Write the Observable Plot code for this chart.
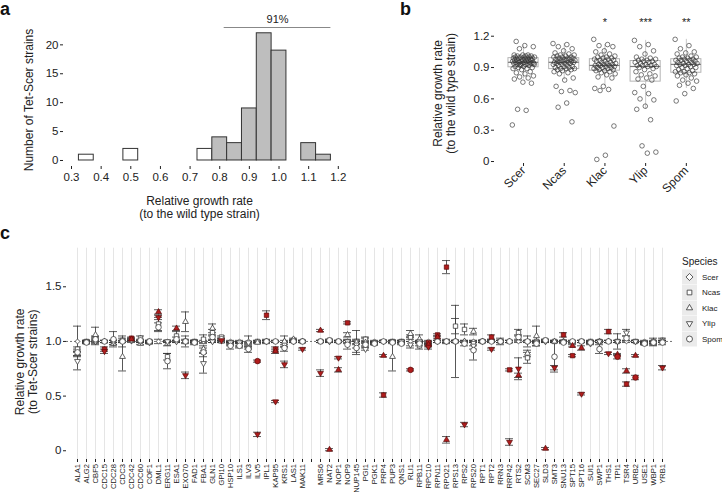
<!DOCTYPE html>
<html><head><meta charset="utf-8">
<script src="https://cdn.jsdelivr.net/npm/d3@7"></script>
<script src="https://cdn.jsdelivr.net/npm/@observablehq/plot@0.6"></script>
<style>
body{margin:0;background:#fff;}
#root{position:relative;width:722px;height:492px;overflow:hidden;background:#fff;font-family:"Liberation Sans",Arial,sans-serif;}
.panel{position:absolute;}
</style></head><body><div id="root"></div>
<script>
// ---------- Panel a data ----------
const histCenters = [0.35, 0.50, 0.75, 0.80, 0.85, 0.90, 0.95, 1.00, 1.10, 1.15];
const histCounts  = [1, 2, 2, 4, 3, 9, 22, 19, 3, 1];
const histGray    = [false, false, false, true, true, true, true, true, true, true];
const histBinWidth = 0.05;
const histTicks = [0.3, 0.4, 0.5, 0.6, 0.7, 0.8, 0.9, 1.0, 1.1, 1.2];
const histYTicks = [0, 5, 10, 15, 20];
const pctLabel = "91%";
const pctFrom = 0.815, pctTo = 1.175, pctY = 23;

// ---------- Panel b data ----------
const speciesB = ["Scer", "Ncas", "Klac", "Ylip", "Spom"];
const scerRates = [0.35,0.49,0.50,0.75,0.76,0.79,0.80,0.81,0.82,0.84,0.85,0.86,0.88,0.89,0.89,0.90,0.90,0.91,0.91,0.92,0.92,
  0.93,0.93,0.93,0.94,0.94,0.94,0.94,0.95,0.95,0.95,0.95,0.95,0.96,0.96,0.96,0.96,0.97,0.97,0.97,0.97,0.93,0.94,
  0.98,0.98,0.98,0.98,0.99,0.99,0.99,0.99,1.00,1.00,1.00,1.00,1.00,1.01,1.01,1.01,1.02,1.02,1.02,1.08,1.10,1.11,1.15];
const ncasRates = [1.13,1.12,1.10,1.08,1.06,1.04,1.03,1.02,1.02,1.01,1.01,1.00,1.00,1.00,0.99,0.99,0.99,0.98,0.98,0.98,
  0.97,0.97,0.97,0.96,0.96,0.96,0.95,0.95,0.95,0.95,0.94,0.94,0.94,0.93,0.93,0.92,0.92,0.91,0.91,0.90,0.90,0.89,0.89,
  0.89,0.88,0.88,0.87,0.86,0.85,0.84,0.80,0.78,0.72,0.68,0.67,0.66,0.56,0.52,0.38];
const klacRates = [1.17,1.12,1.11,1.10,1.06,1.05,1.03,1.02,1.01,1.00,1.00,0.99,0.99,0.98,0.98,0.97,0.97,0.96,0.96,0.95,
  0.95,0.94,0.94,0.93,0.93,0.93,0.92,0.92,0.92,0.91,0.91,0.90,0.90,0.90,0.89,0.89,0.88,0.88,0.87,0.87,0.86,0.85,0.84,
  0.83,0.81,0.80,0.72,0.70,0.69,0.68,0.34,0.06,0.02];
const ylipRates = [1.16,1.12,1.10,1.06,1.03,1.00,0.99,0.98,0.98,0.97,0.97,0.96,0.96,0.95,0.95,0.94,0.93,0.93,0.92,0.92,
  0.92,0.91,0.91,0.90,0.89,0.88,0.86,0.84,0.83,0.82,0.80,0.79,0.78,0.72,0.66,0.65,0.60,0.59,0.53,0.50,0.40,0.15,0.09,0.08];
const spomRates = [1.17,1.11,1.08,1.05,1.04,1.03,1.01,1.00,1.00,0.99,0.99,0.98,0.98,0.97,0.97,0.97,0.96,0.96,0.95,0.95,
  0.94,0.94,0.93,0.93,0.93,0.92,0.92,0.91,0.90,0.90,0.89,0.88,0.87,0.86,0.86,0.85,0.85,0.84,0.83,0.82,0.80,0.78,0.77,
  0.75,0.73,0.70,0.65,0.58];
const starSpecies = ["Klac", "Ylip", "Spom"];
const starLabels = ["*", "***", "**"];
const rateTicks = [0, 0.3, 0.6, 0.9, 1.2];

// ---------- Panel c data ----------
const genes = ["ALA1","ALG2","CBF5","CDC15","CDC28","CDC3","CDC42","CDC60","COF1","DML1",
  "ERG11","ESA1","EXO70","FAD1","FBA1","GLN1","GPI10","HSP10","ILS1","ILV3",
  "ILV5","IPL1","KAP95","KRS1","LAS1","MAK11"," ","MRS6","NAT2","NOP1",
  "NOP9","NUP145","PGI1","PGK1","PRP4","PUP3","QNS1","RLI1","RPB11","RPC10",
  "RPN11","RPO21","RPS13","RPS2","RPS20","RPT1","RPT2","RRN3","RRP42","RTS2",
  "SCM3","SEC27","SLD3","SMT3","SNU13","SPT15","SPT16","SUI1","SWP1","THS1",
  "TPI1","TSR4","URB2","USE1","WBP1","YRB1"];
const speciesC = ["Scer", "Ncas", "Klac", "Ylip", "Spom"];
const scerRef = 1.0;
const scerErr = [.14,.01,.03,.01,.01,.05,.01,.01,.01,.02,
  .01,.01,.05,.01,.01,.01,.01,.01,.01,.05,
  .01,.02,.01,.05,.01,.01,null,.01,.01,.01,
  .02,.10,.04,.01,.01,.01,.01,.04,.01,.01,
  .01,.02,.33,.01,.01,.01,.01,.01,.01,.01,
  .05,.01,.01,.01,.01,.01,.01,.01,.01,.01,
  .07,.01,.01,.01,.01,.01];
const ncasMean = [.93,1.00,1.03,.93,.99,1.01,1.03,1.03,1.00,1.16,
  .86,1.05,1.00,1.00,1.02,1.08,1.04,.98,.98,.97,
  1.00,1.24,.93,.97,1.01,1.00,null,1.00,1.01,1.00,
  1.17,1.00,1.02,.99,.51,1.00,1.00,1.04,.96,.99,
  1.06,1.68,1.14,1.11,.98,1.00,1.04,1.00,.74,1.08,
  .85,1.00,1.01,1.00,1.06,.87,1.00,1.00,1.00,1.09,
  1.00,.61,1.00,.99,1.00,1.01];
const ncasErr = [.02,.01,.02,.02,.02,.02,.01,.02,.01,.06,
  .03,.04,.02,.01,.04,.03,.01,.02,.02,.02,
  .01,.04,.02,.02,.01,.01,null,.01,.01,.01,
  .01,.02,.01,.01,.02,.01,.01,.02,.03,.01,
  .01,.06,.07,.05,.02,.01,.02,.03,.01,.03,
  .05,.01,.01,.01,.02,.01,.01,.01,.01,.02,
  .01,.02,.01,.01,.03,.02];
const klacMean = [.89,.99,1.06,1.00,.98,.86,1.02,.98,.99,1.27,
  .98,1.12,1.18,.99,.93,1.12,1.00,.98,.97,.95,
  .99,1.00,.91,1.00,1.02,1.00,null,1.10,.01,.74,
  1.06,.99,.99,.98,.87,.86,.99,1.07,1.02,.97,
  1.04,.10,1.00,1.00,1.09,1.00,1.01,1.00,1.00,.69,
  .89,1.05,.02,1.00,1.00,.96,.94,.99,1.00,1.00,
  .88,.73,.87,.98,.98,1.00];
const klacErr = [.02,.01,.07,.01,.01,.13,.01,.01,.01,.02,
  .02,.02,.09,.01,.03,.04,.01,.01,.02,.02,
  .01,.01,.02,.01,.01,.01,null,.01,.01,.02,
  .02,.02,.01,.01,.01,.13,.01,.03,.04,.01,
  .01,.03,.01,.01,.03,.01,.01,.01,.01,.02,
  .03,.09,.01,.01,.01,.01,.02,.01,.01,.01,
  .01,.02,.01,.01,.02,.01];
const ylipMean = [.82,1.00,1.00,.91,1.00,1.00,1.01,1.00,.99,1.22,
  1.00,1.00,.69,1.00,.80,1.00,1.01,.99,.99,.99,
  .15,1.00,.45,.79,1.00,.93,null,.71,1.00,.85,
  1.00,.97,.93,.99,1.00,1.00,1.00,.97,1.00,.95,
  1.00,1.00,1.00,.24,.96,1.00,.93,1.00,.08,.75,
  1.00,.99,1.00,.76,1.00,.99,.52,.98,1.00,.89,
  1.00,1.08,1.00,.99,.99,.76];
const ylipErr = [.08,.01,.02,.02,.01,.01,.01,.01,.01,.02,
  .01,.01,.03,.01,.09,.01,.01,.01,.01,.01,
  .02,.01,.01,.03,.01,.01,null,.03,.01,.01,
  .01,.03,.01,.01,.01,.01,.01,.03,.01,.02,
  .01,.01,.01,.02,.03,.01,.01,.01,.03,.10,
  .01,.01,.01,.02,.01,.01,.01,.01,.01,.01,
  .01,.03,.01,.01,.01,.02];
const spomMean = [.90,.99,1.02,1.00,1.02,1.00,1.02,1.01,1.00,1.13,
  .82,1.02,1.00,.99,.90,1.04,1.02,.96,.96,.93,
  .82,1.00,1.00,.94,1.00,1.00,null,1.00,1.01,1.00,
  .97,.94,.97,.98,1.00,.99,.98,.74,.98,.96,
  1.00,1.00,1.00,.98,.92,1.00,1.00,1.00,1.00,1.04,
  1.00,.98,1.01,.86,.99,1.00,1.00,.99,.93,1.00,
  .86,1.03,.67,.98,.99,.99];
const spomErr = [.03,.01,.02,.01,.07,.01,.01,.01,.01,.04,
  .07,.02,.01,.02,.04,.02,.01,.03,.02,.03,
  .01,.01,.01,.03,.01,.01,null,.01,.01,.01,
  .04,.06,.02,.01,.01,.01,.01,.01,.02,.01,
  .01,.01,.01,.02,.09,.01,.01,.01,.01,.02,
  .01,.02,.01,.14,.01,.01,.01,.01,.04,.01,
  .02,.02,.02,.01,.01,.02];
const ncasSig = ["CDC15","CDC42","IPL1","KAP95","NOP9","PRP4","RPC10","RPN11","RPO21","RPT2","RRP42","SNU13","SPT15","THS1","TSR4"];
const klacSig = ["CDC42","DML1","ESA1","KAP95","MRS6","NAT2","NOP1","PRP4","RPC10","RPN11","RPO21","RTS2","SLD3","SPT15","SPT16","TPI1","TSR4","URB2"];
const ylipSig = ["CDC15","DML1","EXO70","GPI10","ILV5","KAP95","KRS1","MAK11","MRS6","NOP1","RPC10","RPS2","RPT2","RRP42","RTS2","SMT3","SPT16","THS1","YRB1"];
const spomSig = ["ILV5","RLI1","TPI1","URB2"];
const scerSig = [];

// ---------- shared ----------
const FONT = '"Liberation Sans", Arial, sans-serif';
const INK = "#222";
const RED = "#b01c1c";
const baseStyle = {fontFamily: FONT, fontSize: "11.5px", color: INK, background: "transparent", overflow: "visible"};
const root = document.getElementById("root");
function place(node, left, top) { node.classList.add("panel"); node.style.left = left + "px"; node.style.top = top + "px"; root.appendChild(node); }
const titleOpts = {textAnchor: "middle", lineAnchor: "middle", fontSize: 12, lineHeight: 1.05};

// inverted triangle symbol (mirror of d3.symbolTriangle2)
const triDown = { draw(ctx, size) { const s = Math.sqrt(size) * 0.6824, t = s / 2, u = s * Math.sqrt(3) / 2; ctx.moveTo(0, s); ctx.lineTo(u, -t); ctx.lineTo(-u, -t); ctx.closePath(); } };
const symbolOf = {Scer: d3.symbolDiamond2, Ncas: d3.symbolSquare2, Klac: d3.symbolTriangle2, Ylip: triDown, Spom: d3.symbolCircle};

// ---------- Panel a ----------
const binsA = histCenters.map((c, i) => ({x1: c - histBinWidth / 2, x2: c + histBinWidth / 2, n: histCounts[i], gray: histGray[i]}));
const plotA = Plot.plot({
  width: 360, height: 220,
  marginLeft: 63, marginRight: 13, marginTop: 27, marginBottom: 54,
  x: {domain: [0.273, 1.231]},
  y: {domain: [-1.04, 23]},
  style: baseStyle,
  marks: [
    Plot.rectY(binsA.filter(d => !d.gray), {x1: "x1", x2: "x2", y: "n", fill: "white", stroke: "#333", strokeWidth: 1}),
    Plot.rectY(binsA.filter(d => d.gray), {x1: "x1", x2: "x2", y: "n", fill: "#bebebe", stroke: "#333", strokeWidth: 1}),
    Plot.axisX({ticks: histTicks, tickFormat: d3.format(".1f"), tickSize: 3, tickPadding: 3, line: true, label: null}),
    Plot.axisY({ticks: histYTicks, tickSize: 3, tickPadding: 2, line: true, label: null}),
    Plot.ruleY([{y: pctY, a: pctFrom, b: pctTo}], {y: "y", x1: "a", x2: "b", stroke: "#888", strokeWidth: 1}),
    Plot.text([{x: (pctFrom + pctTo) / 2, y: pctY, t: pctLabel}], {x: "x", y: "y", text: "t", dy: -8, fontSize: 11}),
    Plot.text(["Relative growth rate\n(to the wild type strain)"], {...titleOpts, frameAnchor: "bottom", dy: 41, dx: -6}),
    Plot.text(["Number of Tet-Scer strains"], {...titleOpts, frameAnchor: "left", dx: -35, dy: 3, rotate: -90})
  ]
});
place(plotA, 0, 0);

// ---------- Panel b ----------
const valsB = [scerRates, ncasRates, klacRates, ylipRates, spomRates];
const ptsB = [];
valsB.forEach((arr, i) => arr.forEach((v, k) => ptsB.push({i, v, j: ((k * 0.618034) % 1 - 0.5) * 0.55})));
const statsB = valsB.map((arr, i) => {
  const s = arr.slice().sort(d3.ascending);
  const q1 = d3.quantile(s, 0.25), med = d3.quantile(s, 0.5), q3 = d3.quantile(s, 0.75), iqr = q3 - q1;
  const lo = d3.min(s.filter(v => v >= q1 - 1.5 * iqr)), hi = d3.max(s.filter(v => v <= q3 + 1.5 * iqr));
  return {i, q1, med, q3, lo, hi};
});
const starsB = starSpecies.map((s, k) => ({i: speciesB.indexOf(s), s: starLabels[k]}));
const half = 0.37;
const plotB = Plot.plot({
  width: 322, height: 220,
  marginLeft: 94, marginRight: 15, marginTop: 30.7, marginBottom: 57,
  x: {domain: [-0.713, 4.52]},
  y: {domain: [-0.019, 1.248]},
  style: baseStyle,
  marks: [
    Plot.ruleX(statsB, {x: "i", y1: "lo", y2: "q1", stroke: "#c8c8c8", strokeWidth: 1}),
    Plot.ruleX(statsB, {x: "i", y1: "q3", y2: "hi", stroke: "#c8c8c8", strokeWidth: 1}),
    Plot.rect(statsB, {x1: d => d.i - half, x2: d => d.i + half, y1: "q1", y2: "q3", fill: "none", stroke: "#b4b4b4", strokeWidth: 1}),
    Plot.ruleY(statsB, {y: "med", x1: d => d.i - half, x2: d => d.i + half, stroke: "#7a7a7a", strokeWidth: 1.2}),
    Plot.dot(ptsB, {x: d => d.i + d.j, y: "v", r: 2.3, stroke: "#333", strokeWidth: 0.65, fill: "none"}),
    Plot.text(starsB, {x: "i", y: () => 1.33, text: "s", fontSize: 11}),
    Plot.axisX({ticks: [0, 1, 2, 3, 4], tickFormat: i => speciesB[i], tickRotate: -45, tickSize: 3, tickPadding: 2, line: true, label: null, fontSize: 12}),
    Plot.axisY({ticks: rateTicks, tickFormat: d => d === 0 ? "0" : d.toFixed(1), tickSize: 3, tickPadding: 2, line: true, label: null}),
    Plot.text(["Relative growth rate\n(to the wild type strain)"], {...titleOpts, frameAnchor: "left", dx: -50, dy: -4, rotate: -90})
  ]
});
place(plotB, 400, 0);

// ---------- Panel c ----------
const meansC = {Ncas: ncasMean, Klac: klacMean, Ylip: ylipMean, Spom: spomMean};
const errsC = {Scer: scerErr, Ncas: ncasErr, Klac: klacErr, Ylip: ylipErr, Spom: spomErr};
const sigC = {Scer: scerSig, Ncas: ncasSig, Klac: klacSig, Ylip: ylipSig, Spom: spomSig};
const rowsC = [];
genes.forEach((g, k) => {
  speciesC.forEach(sp => {
    const m = sp === "Scer" ? (scerErr[k] == null ? null : scerRef) : meansC[sp][k];
    const e = errsC[sp][k];
    if (m == null) return;
    rowsC.push({gene: g, sp, m, e, sig: sigC[sp].includes(g)});
  });
});
const dotMarks = [];
speciesC.forEach(sp => {
  const rr = sp === "Scer" ? 2.2 : 2.8;
  dotMarks.push(Plot.dot(rowsC.filter(d => d.sp === sp && !d.sig), {x: "gene", y: "m", symbol: symbolOf[sp], r: rr, fill: "white", stroke: "#333", strokeWidth: 0.75}));
});
speciesC.forEach(sp => {
  dotMarks.push(Plot.dot(rowsC.filter(d => d.sp === sp && d.sig), {x: "gene", y: "m", symbol: symbolOf[sp], r: 2.8, fill: RED, stroke: "#5a0a0a", strokeWidth: 0.7}));
});
const plotC = Plot.plot({
  width: 722, height: 267,
  marginLeft: 66, marginRight: 49, marginTop: 22.7, marginBottom: 33,
  x: {type: "band", domain: genes, paddingInner: 0.12, paddingOuter: 0.2},
  y: {domain: [-0.08, 1.853]},
  style: baseStyle,
  marks: [
    Plot.ruleX(genes, {stroke: "#e2e2e2", strokeWidth: 0.9}),
    Plot.ruleY([1], {stroke: "#333", strokeDasharray: "2,2", strokeWidth: 0.7}),
    Plot.ruleX(rowsC, {x: "gene", y1: d => d.m - d.e, y2: d => d.m + d.e, stroke: "#333", strokeWidth: 0.8}),
    Plot.tickY(rowsC, {x: "gene", y: d => d.m - d.e, stroke: "#333", strokeWidth: 0.8}),
    Plot.tickY(rowsC, {x: "gene", y: d => d.m + d.e, stroke: "#333", strokeWidth: 0.8}),
    ...dotMarks,
    Plot.axisX({tickRotate: -90, fontSize: 7.6, tickSize: 3, tickPadding: 1.5, line: true, label: null}),
    Plot.axisY({ticks: [0, 0.5, 1, 1.5], tickFormat: d => d === 0 ? "0" : d.toFixed(1), tickSize: 3, tickPadding: 2, line: true, label: null}),
    Plot.text(["Relative growth rate\n(to Tet-Scer strains)"], {...titleOpts, frameAnchor: "left", dx: -40, dy: 8, rotate: -90})
  ]
});
place(plotC, 0, 225);

// ---------- overlay: panel letters + legend ----------
const ov = d3.create("svg").attr("width", 722).attr("height", 492)
  .style("position", "absolute").style("left", "0px").style("top", "0px")
  .attr("font-family", FONT);
[["a", 0, 15], ["b", 400, 15], ["c", 0, 239]].forEach(([t, x, y]) => {
  ov.append("text").attr("x", x).attr("y", y).attr("font-size", 18).attr("font-weight", "bold").attr("fill", "#111").text(t);
});
const legX = 682, legY0 = 277, legStep = 15.5;
ov.append("text").attr("x", legX).attr("y", 265).attr("font-size", 10).attr("fill", INK).text("Species");
speciesC.forEach((sp, k) => {
  const cy = legY0 + k * legStep;
  ov.append("rect").attr("x", legX).attr("y", cy - 7.5).attr("width", 15).attr("height", 15).attr("fill", "#ebebeb");
  ov.append("path").attr("transform", `translate(${legX + 7.5},${cy})`)
    .attr("d", d3.symbol(symbolOf[sp], sp === "Scer" ? 32 : 28)())
    .attr("fill", "white").attr("stroke", "#333").attr("stroke-width", 0.8);
  ov.append("text").attr("x", legX + 20).attr("y", cy).attr("dy", "0.35em").attr("font-size", 8).attr("fill", INK).text(sp);
});
root.appendChild(ov.node());
</script></body></html>
